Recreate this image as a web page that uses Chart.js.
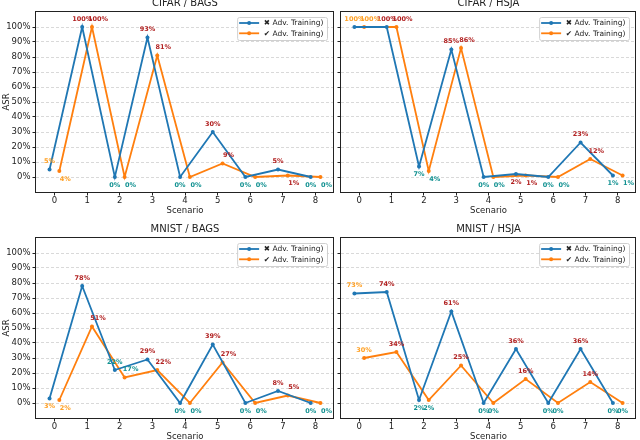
<!DOCTYPE html>
<html lang="en">
<head>
<meta charset="UTF-8" />
<title>ASR per scenario</title>
<script src="https://cdn.jsdelivr.net/npm/chart.js"></script>
<style>
  html, body { margin: 0; padding: 0; background: #fff; }
  body { width: 640px; height: 440px; overflow: hidden; position: relative; }
  canvas { position: absolute; }
</style>
</head>
<body>
<canvas id="cifarBags" width="340" height="220" style="left:0;top:0"></canvas>
<canvas id="cifarHsja" width="304" height="220" style="left:336px;top:0"></canvas>
<canvas id="mnistBags" width="340" height="226" style="left:0;top:220px"></canvas>
<canvas id="mnistHsja" width="304" height="226" style="left:336px;top:220px"></canvas>

<script>
  // ---- data ----
  const scenarios = [0, 1, 2, 3, 4, 5, 6, 7, 8];
  const yTicks = [0, 10, 20, 30, 40, 50, 60, 70, 80, 90, 100];
  const seriesLabels = ["\u2716 Adv. Training)", "\u2714 Adv. Training)"];

  const cifarBagsNoAdv = [5, 100, 0, 93, 0, 30, 0, 5, 0];
  const cifarBagsAdv = [4, 100, 0, 81, 0, 9, 0, 1, 0];
  const cifarHsjaNoAdv = [100, 100, 7, 85, 0, 2, 0, 23, 1];
  const cifarHsjaAdv = [100, 100, 4, 86, 0, 1, 0, 12, 1];
  const mnistBagsNoAdv = [3, 78, 22, 29, 0, 39, 0, 8, 0];
  const mnistBagsAdv = [2, 51, 17, 22, 0, 27, 0, 5, 0];
  const mnistHsjaNoAdv = [73, 74, 2, 61, 0, 36, 0, 36, 0];
  const mnistHsjaAdv = [30, 34, 2, 25, 0, 16, 0, 14, 0];

  const BLUE = "#1f77b4";
  const ORANGE = "#ff7f0e";
  const DODGE = 0.15;
  const FONT = "'DejaVu Sans', sans-serif";

  Chart.defaults.font.family = FONT;
  Chart.defaults.color = "#222";

  function labelColor(s) {
    if (s === 0) return "#ffa126";
    return s % 2 === 1 ? "#b22222" : "#119191";
  }

  // value labels next to each point
  const annotate = {
    id: "annotate",
    afterDatasetsDraw(chart, args, opts) {
      const ctx = chart.ctx;
      ctx.save();
      ctx.font = "bold 6.5px " + FONT;
      ctx.textAlign = "center";
      ctx.textBaseline = "middle";
      chart.data.datasets.forEach((ds, di) => {
        const meta = chart.getDatasetMeta(di);
        meta.data.forEach((pt, i) => {
          const v = ds.data[i].y;
          const s = scenarios[i];
          const below = v < 5 || (v < 10 && s > 0 && s % 2 === 0);
          const dx = di === 1 ? opts.shift : 0;
          ctx.fillStyle = labelColor(s);
          ctx.fillText(v + "%", pt.x + dx, pt.y + (below ? 8 : -8));
        });
      });
      ctx.restore();
    },
  };

  // axes box, title and legend like the matplotlib figure
  const panel = {
    id: "panel",
    afterDraw(chart, args, opts) {
      const { ctx, chartArea: a } = chart;
      ctx.save();
      ctx.strokeStyle = "#222";
      ctx.lineWidth = 1;
      ctx.strokeRect(a.left - 0.5, a.top - 0.5, a.right - a.left, a.bottom - a.top + 1);

      ctx.fillStyle = "#222";
      ctx.font = "10px " + FONT;
      ctx.textAlign = "center";
      ctx.textBaseline = "middle";
      ctx.fillText(opts.title, (a.left + a.right) / 2, a.top - 9);

      // legend
      ctx.font = "7.5px " + FONT;
      const texts = chart.data.datasets.map((d) => d.label);
      const tw = Math.max(...texts.map((t) => ctx.measureText(t).width));
      const w = 2 + 20 + 4.7 + tw + 3.6;
      const h = 23;
      const x0 = a.right - 7 - w;
      const y0 = a.top + 5;
      ctx.beginPath();
      ctx.roundRect(x0 + 0.5, y0 + 0.5, w, h, 2);
      ctx.fillStyle = "rgba(255,255,255,0.85)";
      ctx.fill();
      ctx.strokeStyle = "#d0d0d0";
      ctx.stroke();
      chart.data.datasets.forEach((d, i) => {
        const yy = y0 + 6 + i * 10.3;
        ctx.strokeStyle = d.borderColor;
        ctx.lineWidth = 1.8;
        ctx.beginPath();
        ctx.moveTo(x0 + 2, yy);
        ctx.lineTo(x0 + 22, yy);
        ctx.stroke();
        ctx.fillStyle = d.borderColor;
        ctx.beginPath();
        ctx.arc(x0 + 12, yy, 2, 0, Math.PI * 2);
        ctx.fill();
        ctx.fillStyle = "#222";
        ctx.textAlign = "left";
        ctx.fillText(d.label, x0 + 26.7, yy + 0.5);
      });
      ctx.restore();
    },
  };

  function makeChart(id, title, noAdv, adv, leftCol, topRow, shift) {
    const series = [noAdv, adv].map((vals, k) => ({
      label: seriesLabels[k],
      data: scenarios.map((s, i) => ({ x: s + (k === 0 ? -DODGE : DODGE), y: vals[i] })),
      borderColor: k === 0 ? BLUE : ORANGE,
      backgroundColor: k === 0 ? BLUE : ORANGE,
      borderWidth: 1.8,
      pointRadius: 2,
      pointBorderWidth: 0,
      tension: 0,
    }));

    return new Chart(document.getElementById(id), {
      type: "line",
      data: { datasets: series },
      options: {
        responsive: false,
        animation: false,
        devicePixelRatio: 1,
        layout: {
          padding: { top: topRow ? 12 : 18, bottom: 3, left: 0, right: leftCol ? 6 : 0 },
        },
        plugins: {
          legend: { display: false },
          tooltip: { enabled: false },
          annotate: { shift: shift },
          panel: { title: title },
        },
        scales: {
          x: {
            type: "linear",
            min: -0.565,
            max: 8.565,
            afterBuildTicks: (sc) => { sc.ticks = scenarios.map((v) => ({ value: v })); },
            afterFit: (sc) => { sc.height = 25; },
            ticks: { font: { size: 8.5 }, padding: 0.5, maxRotation: 0 },
            grid: { drawOnChartArea: false, drawTicks: true, tickLength: 3.5, tickColor: "#222" },
            border: { display: false },
            title: { display: true, text: "Scenario", font: { size: 8.5 }, padding: { top: 0, bottom: 1 } },
          },
          y: {
            min: -10,
            max: 110,
            afterBuildTicks: (sc) => { sc.ticks = yTicks.map((v) => ({ value: v })); },
            afterFit: (sc) => { sc.width = leftCol ? 36 : 5; },
            ticks: {
              display: leftCol,
              font: { size: 8.5 },
              padding: 2,
              callback: (v) => v + "%",
            },
            grid: {
              color: "#cfcfcf",
              lineWidth: 0.8,
              tickLength: 3.5,
              tickColor: "#222",
              tickWidth: 1,
            },
            border: { display: false, dash: [3, 2] },
            title: { display: leftCol, text: "ASR", font: { size: 8.5 }, padding: { top: 2, bottom: 0 } },
          },
        },
      },
      plugins: [annotate, panel],
    });
  }

  makeChart("cifarBags", "CIFAR / BAGS", cifarBagsNoAdv, cifarBagsAdv, true, true, 6);
  makeChart("cifarHsja", "CIFAR / HSJA", cifarHsjaNoAdv, cifarHsjaAdv, false, true, 6);
  makeChart("mnistBags", "MNIST / BAGS", mnistBagsNoAdv, mnistBagsAdv, true, false, 6);
  makeChart("mnistHsja", "MNIST / HSJA", mnistHsjaNoAdv, mnistHsjaAdv, false, false, 0);
</script>
</body>
</html>
